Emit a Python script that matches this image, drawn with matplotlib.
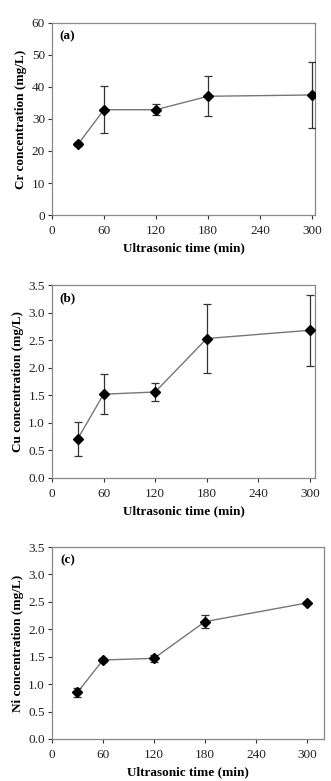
import matplotlib
matplotlib.use("Agg")
import matplotlib.pyplot as plt

plt.rcParams['font.family'] = ['Liberation Serif', 'DejaVu Serif']

time_min = [30, 60, 120, 180, 300]

cr_conc = [22.1, 32.9, 32.9, 37.1, 37.5]
cr_err = [0.6, 7.3, 1.7, 6.2, 10.3]

cu_conc = [0.71, 1.52, 1.56, 2.53, 2.68]
cu_err = [0.31, 0.36, 0.16, 0.63, 0.64]

ni_conc = [0.85, 1.44, 1.47, 2.14, 2.48]
ni_err = [0.08, 0.03, 0.07, 0.12, 0.02]

xticks = [0, 60, 120, 180, 240, 300]

fig = plt.figure(figsize=(3.31, 7.81), dpi=100)

panels = [
    # (rect, y, err, ylim, yticks, yfmt, label, tag, xmax)
    ([0.157, 0.7247, 0.795, 0.2459], cr_conc, cr_err, (0, 60), range(0, 61, 10),
     "{:.0f}", "Cr concentration (mg/L)", "(a)", 303.5),
    ([0.157, 0.388, 0.795, 0.247], cu_conc, cu_err, (0, 3.5), [i * 0.5 for i in range(8)],
     "{:.1f}", "Cu concentration (mg/L)", "(b)", 306),
    ([0.157, 0.0538, 0.822, 0.2458], ni_conc, ni_err, (0, 3.5), [i * 0.5 for i in range(8)],
     "{:.1f}", "Ni concentration (mg/L)", "(c)", 320),
]

for rect, y, err, ylim, yticks, yfmt, ylabel, tag, xmax in panels:
    ax = fig.add_axes(rect)
    ax.plot(time_min, y, color='#777777', lw=1.0, zorder=2)
    ax.errorbar(time_min, y, yerr=err, fmt='none', ecolor='#333333',
                elinewidth=0.9, capsize=3, capthick=0.9, zorder=3)
    ax.plot(time_min, y, 'D', color='black', ms=5, zorder=4)
    ax.set_xlim(0, xmax)
    ax.set_ylim(*ylim)
    ax.set_xticks(xticks)
    ax.set_yticks(list(yticks))
    ax.set_yticklabels([yfmt.format(v) for v in yticks])
    ax.tick_params(direction='out', length=3, width=0.8, labelsize=9.5,
                   colors='#333333', labelcolor='#222222', pad=2)
    ax.tick_params(axis='x', pad=4)
    for s in ax.spines.values():
        s.set_color('#888888')
        s.set_linewidth(0.9)
    ax.set_xlabel("Ultrasonic time (min)", fontsize=9.5, fontweight='bold', labelpad=4)
    ax.set_ylabel(ylabel, fontsize=9.5, fontweight='bold', labelpad=3)
    ax.text(0.03, 0.93, tag, transform=ax.transAxes, fontsize=9.5,
            fontweight='bold', ha='left', va='center')

fig.savefig("out.png", dpi=100)
